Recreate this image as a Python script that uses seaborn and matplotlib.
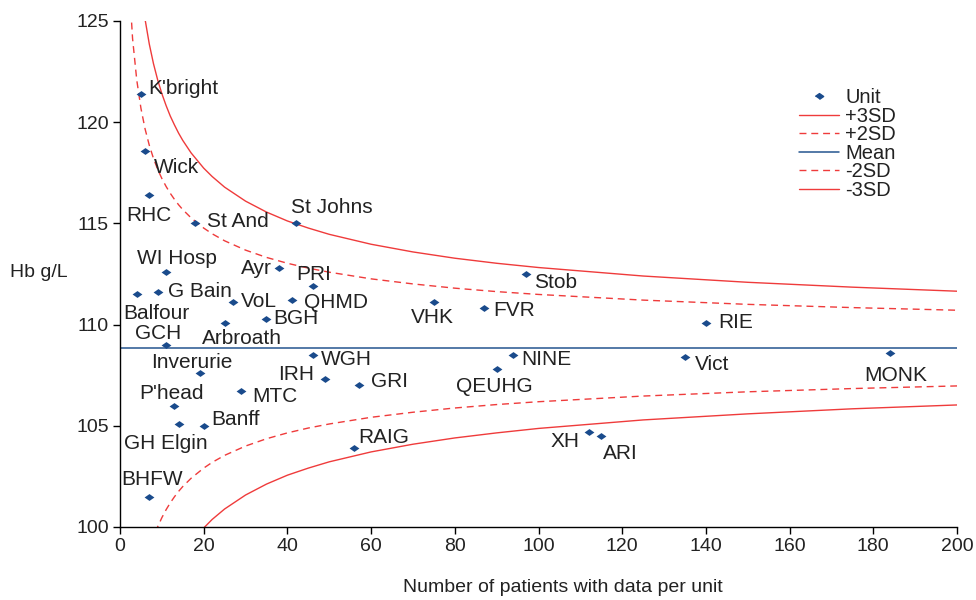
import matplotlib
matplotlib.use("Agg")
import matplotlib.pyplot as plt
from matplotlib.lines import Line2D
from matplotlib.markers import MarkerStyle
import pandas as pd
import seaborn as sns

sns.set_style("ticks")
plt.rcParams["font.family"] = ["Liberation Sans", "DejaVu Sans"]

# =========================
# DATA
# =========================
units = ["K'bright", "Wick", "RHC", "St And", "St Johns", "WI Hosp", "Ayr", "PRI",
         "Balfour", "G Bain", "VoL", "QHMD", "BGH", "Arbroath", "GCH", "Inverurie",
         "WGH", "IRH", "GRI", "MTC", "P'head", "Banff", "GH Elgin", "BHFW", "RAIG",
         "VHK", "FVR", "Stob", "NINE", "QEUHG", "RIE", "Vict", "MONK", "XH", "ARI"]
patients = [5, 6, 7, 18, 42, 11, 38, 46,
            4, 9, 27, 41, 35, 25, 11, 19,
            46, 49, 57, 29, 13, 20, 14, 7, 56,
            75, 87, 97, 94, 90, 140, 135, 184, 112, 115]
hb = [121.4, 118.6, 116.4, 115.0, 115.0, 112.6, 112.8, 111.9,
      111.5, 111.6, 111.1, 111.2, 110.3, 110.1, 109.0, 107.6,
      108.5, 107.3, 107.0, 106.7, 106.0, 105.0, 105.1, 101.5, 103.9,
      111.1, 110.8, 112.5, 108.5, 107.8, 110.1, 108.4, 108.6, 104.7, 104.5]

mean_hb = 108.84

# control limit curves, read at these unit sizes
n_grid = [2, 3, 4, 5, 6, 7, 8, 9, 10, 11, 12, 13, 14, 15, 17, 20, 22, 25, 30,
          35, 40, 45, 50, 60, 70, 80, 90, 100, 125, 150, 175, 200]
plus3 = [136.95, 131.79, 128.72, 126.62, 125.07, 123.86, 122.89, 122.09, 121.41,
         120.83, 120.31, 119.87, 119.46, 119.10, 118.48, 117.73, 117.32, 116.79,
         116.10, 115.56, 115.12, 114.77, 114.46, 113.97, 113.59, 113.28, 113.03,
         112.82, 112.40, 112.09, 111.85, 111.65]
plus2 = [127.58, 124.14, 122.09, 120.69, 119.66, 118.86, 118.21, 117.67, 117.22,
         116.83, 116.49, 116.19, 115.92, 115.68, 115.27, 114.77, 114.49, 114.14,
         113.68, 113.32, 113.03, 112.79, 112.59, 112.26, 112.01, 111.80, 111.63,
         111.49, 111.21, 111.00, 110.84, 110.71]
minus2 = [90.10, 93.54, 95.59, 96.99, 98.02, 98.82, 99.47, 100.01, 100.46,
          100.85, 101.19, 101.49, 101.76, 102.00, 102.41, 102.91, 103.19, 103.54,
          104.00, 104.36, 104.65, 104.89, 105.09, 105.42, 105.67, 105.88, 106.05,
          106.19, 106.47, 106.68, 106.84, 106.97]
minus3 = [80.73, 85.89, 88.97, 91.06, 92.61, 93.82, 94.79, 95.59, 96.27,
          96.86, 97.37, 97.82, 98.22, 98.58, 99.20, 99.95, 100.37, 100.89,
          101.58, 102.12, 102.56, 102.91, 103.22, 103.71, 104.09, 104.40, 104.65,
          104.87, 105.29, 105.59, 105.84, 106.03]

x_ticks = list(range(0, 201, 20))
y_ticks = list(range(100, 126, 5))

# label placement: offset in pixels from the marker + alignment
label_pos = {
    "K'bright": (7, 5, "left"), "Wick": (9, -17, "left"), "RHC": (0, -20, "center"),
    "St And": (12, 2, "left"), "St Johns": (-5, 16, "left"), "WI Hosp": (11, 13, "center"),
    "Ayr": (-7, -1, "right"), "PRI": (-16, 12, "left"), "Balfour": (-13, -19, "left"),
    "G Bain": (10, 1, "left"), "VoL": (8, 1, "left"), "QHMD": (12, -2, "left"),
    "BGH": (7, 0, "left"), "Arbroath": (17, -16, "center"), "GCH": (-8, 11, "center"),
    "Inverurie": (-8, 11, "center"), "WGH": (8, -5, "left"), "IRH": (-11, 5, "right"),
    "GRI": (12, 4, "left"), "MTC": (11, -5, "left"), "P'head": (-3, 12, "center"),
    "Banff": (8, 6, "left"), "GH Elgin": (-13, -20, "center"), "BHFW": (3, 17, "center"),
    "RAIG": (4, 11, "left"), "VHK": (-1, -15, "center"), "FVR": (9, -2, "left"),
    "Stob": (8, -9, "left"), "NINE": (8, -5, "left"), "QEUHG": (-2, -17, "center"),
    "RIE": (12, 0, "left"), "Vict": (10, -8, "left"), "MONK": (6, -23, "center"),
    "XH": (-9, -10, "right"), "ARI": (2, -18, "left"),
}

RED = "#ef3b3b"
BLUE = "#24558f"
NAVY = "#1a4b8c"
TXT = "#222222"

diamond = MarkerStyle([(-1, 0), (0, 0.7), (1, 0), (0, -0.7)])

df = pd.DataFrame({"unit": units, "patients": patients, "hb": hb})
limits = pd.DataFrame({"n": n_grid, "+3SD": plus3, "+2SD": plus2,
                       "-2SD": minus2, "-3SD": minus3})

fig, ax = plt.subplots(figsize=(9.76, 6), dpi=100)
fig.subplots_adjust(left=120 / 976, right=957 / 976, bottom=1 - 527 / 600, top=1 - 21 / 600)

dash = (0, (5, 3.5))
line_style = {"+3SD": "-", "+2SD": dash, "-2SD": dash, "-3SD": "-"}
for col, ls in line_style.items():
    sns.lineplot(data=limits, x="n", y=col, ax=ax, color=RED, linewidth=1.0,
                 linestyle=ls, zorder=2)

ax.axhline(mean_hb, color=BLUE, linewidth=1.1, zorder=2)

sns.scatterplot(data=df, x="patients", y="hb", ax=ax, marker=diamond, s=50,
                color=NAVY, edgecolor=NAVY, linewidth=0, zorder=3)

for name, x, y in zip(units, patients, hb):
    dx, dy, ha = label_pos[name]
    ax.annotate(name, (x, y), xytext=(dx, dy), textcoords="offset pixels",
                ha=ha, va="center", fontsize=15, color=TXT, zorder=4)

ax.set_xlim(0, 200)
ax.set_ylim(100, 125)
ax.set_xticks(x_ticks)
ax.set_yticks(y_ticks)
ax.tick_params(direction="out", length=5, width=1, labelsize=14,
               labelcolor=TXT, color="black", pad=3)
sns.despine(ax=ax)
for sp in ["left", "bottom"]:
    ax.spines[sp].set_color("black")
    ax.spines[sp].set_linewidth(1.0)

ax.set_xlabel("Number of patients with data per unit", fontsize=14, color=TXT,
              va="baseline")
ax.xaxis.set_label_coords((563 - 120) / 837, (527 - 592.5) / 506)
ax.set_ylabel("Hb g/L", fontsize=14, color=TXT, rotation=0, ha="left", va="baseline")
ax.yaxis.set_label_coords((10 - 120) / 837, (527 - 276.7) / 506)

handles = [
    Line2D([], [], marker=diamond, color=NAVY, linestyle="None", markersize=6),
    Line2D([], [], color=RED, linewidth=1.0, linestyle="-"),
    Line2D([], [], color=RED, linewidth=1.0, linestyle=dash),
    Line2D([], [], color=BLUE, linewidth=1.1, linestyle="-"),
    Line2D([], [], color=RED, linewidth=1.0, linestyle=dash),
    Line2D([], [], color=RED, linewidth=1.0, linestyle="-"),
]
labels = ["Unit", "+3SD", "+2SD", "Mean", "-2SD", "-3SD"]
leg = ax.legend(handles, labels, loc="upper left",
                bbox_to_anchor=(799 / 976, 1 - 88 / 600), bbox_transform=fig.transFigure,
                frameon=False, fontsize=14.5, handlelength=2.0, handletextpad=0.3,
                labelspacing=-0.02, borderpad=0, borderaxespad=0)
for t in leg.get_texts():
    t.set_color(TXT)

plt.savefig("out.png", dpi=100)
plt.close()
